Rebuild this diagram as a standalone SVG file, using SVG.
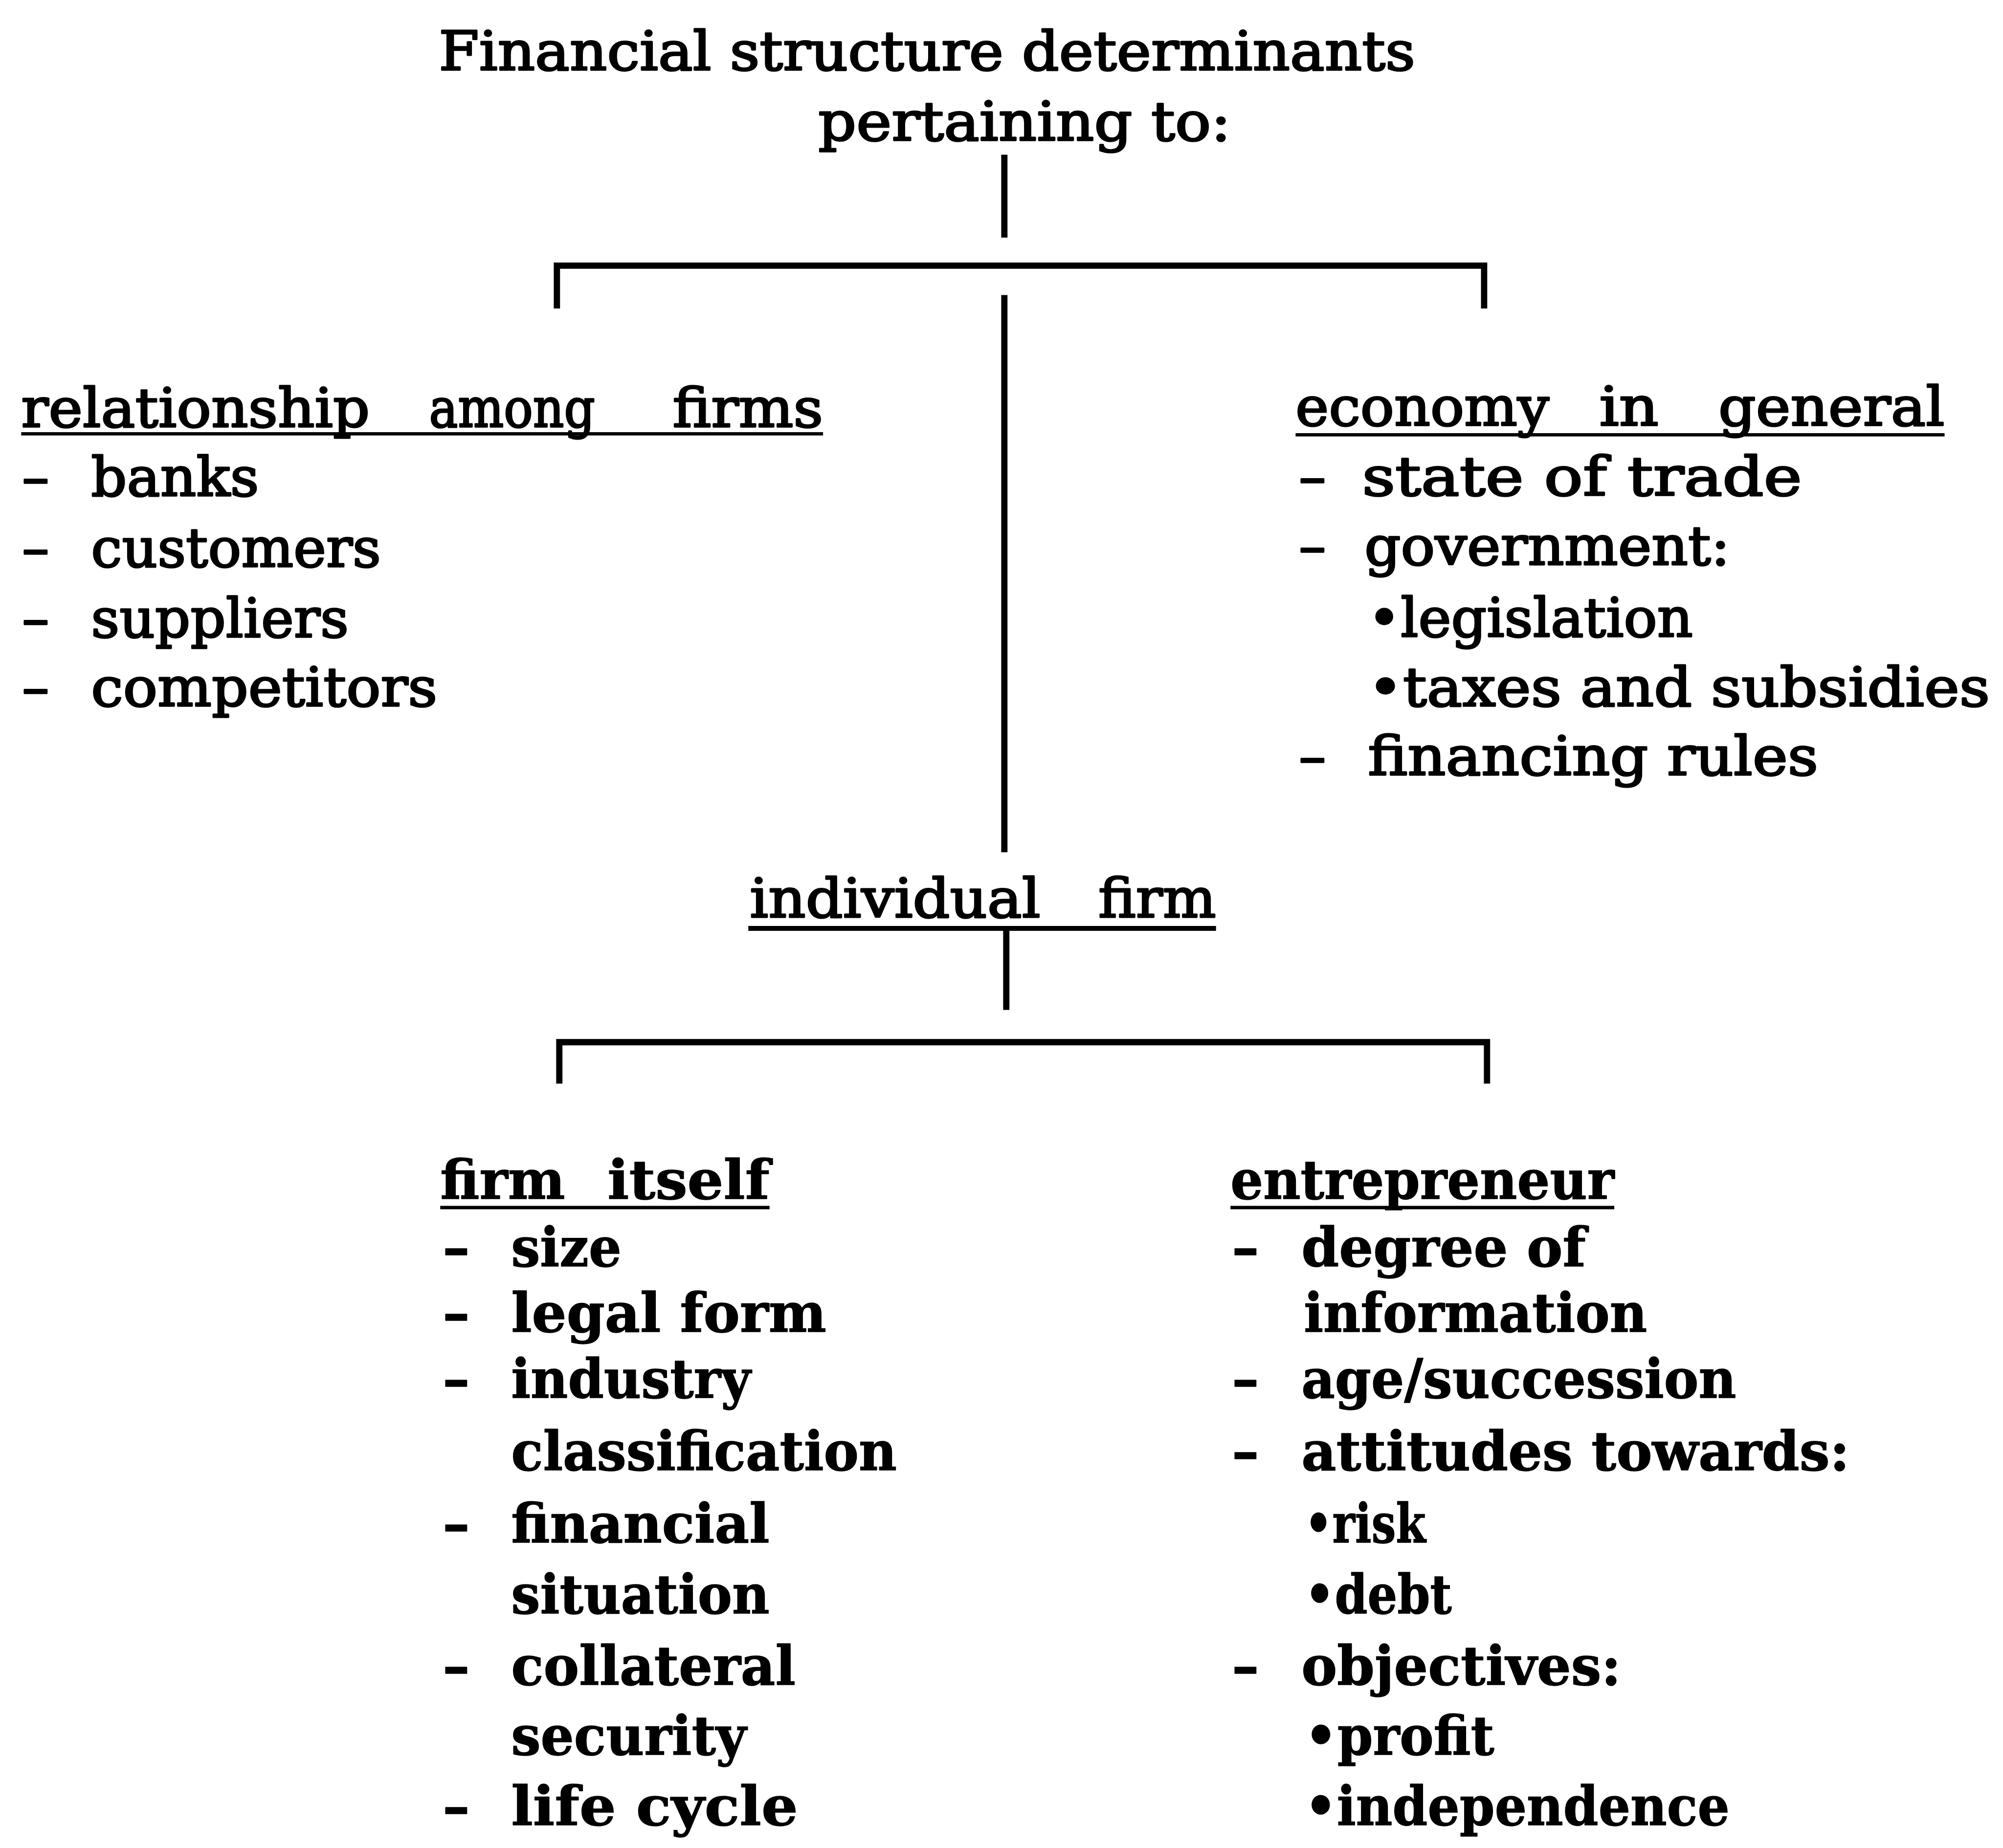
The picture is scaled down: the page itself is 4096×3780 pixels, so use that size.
<svg xmlns="http://www.w3.org/2000/svg" width="4096" height="3780" viewBox="0 0 4096 3780">
<style>
  .t { font-family: "DejaVu Serif", "Liberation Serif", serif; font-size: 112px; fill: #000; stroke: #000; stroke-width: 3.5; stroke-linejoin: round; }
  .b { font-weight: bold; stroke-width: 1.5; }
  .ul { stroke: #000; stroke-width: 7; fill: none; }
  .ln { stroke: #000; stroke-width: 13; fill: none; stroke-linecap: butt; stroke-linejoin: miter; }
</style>
<rect x="0" y="0" width="4096" height="3780" fill="#fff"/>
<g transform="scale(0.986)">
  <g id="title">
    <text class="t" x="910" y="145" textLength="2025" lengthAdjust="spacingAndGlyphs">Financial structure determinants</text>
    <text class="t" x="1697" y="291" textLength="856" lengthAdjust="spacingAndGlyphs">pertaining to:</text>
  </g>

  <g id="connectors">
    <path class="ln" d="M2083,321 V493"/>
    <path class="ln" d="M1155,640 V551 H3078 V640"/>
    <path class="ln" d="M2083,612 V1768"/>
    <path class="ln" d="M2087,1926 V2095"/>
    <path class="ln" d="M1160,2248 V2162 H3084 V2248"/>
  </g>

  <g id="relationship">
    <text class="t" x="44" y="885" textLength="723" lengthAdjust="spacingAndGlyphs">relationship</text>
    <text class="t" x="890" y="885" textLength="344" lengthAdjust="spacingAndGlyphs">among</text>
    <text class="t" x="1395" y="885" textLength="312" lengthAdjust="spacingAndGlyphs">firms</text>
    <line class="ul" x1="44" y1="900" x2="1707" y2="900"/>
    <text class="t" x="46" y="1028">–</text>
    <text class="t" x="189" y="1028" textLength="348" lengthAdjust="spacingAndGlyphs">banks</text>
    <text class="t" x="46" y="1175">–</text>
    <text class="t" x="189" y="1175" textLength="601" lengthAdjust="spacingAndGlyphs">customers</text>
    <text class="t" x="46" y="1321">–</text>
    <text class="t" x="189" y="1321" textLength="534" lengthAdjust="spacingAndGlyphs">suppliers</text>
    <text class="t" x="46" y="1464">–</text>
    <text class="t" x="189" y="1464" textLength="718" lengthAdjust="spacingAndGlyphs">competitors</text>
  </g>

  <g id="economy">
    <text class="t" x="2687" y="882" textLength="526" lengthAdjust="spacingAndGlyphs">economy</text>
    <text class="t" x="3317" y="882" textLength="123" lengthAdjust="spacingAndGlyphs">in</text>
    <text class="t" x="3564" y="882" textLength="469" lengthAdjust="spacingAndGlyphs">general</text>
    <line class="ul" x1="2687" y1="902" x2="4033" y2="902"/>
    <text class="t" x="2694" y="1027">–</text>
    <text class="t" x="2825" y="1027" textLength="912" lengthAdjust="spacingAndGlyphs">state of trade</text>
    <text class="t" x="2694" y="1171">–</text>
    <text class="t" x="2830" y="1171" textLength="758" lengthAdjust="spacingAndGlyphs">government:</text>
    <text class="t" x="2837" y="1320" textLength="674" lengthAdjust="spacingAndGlyphs">•legislation</text>
    <text class="t" x="2837" y="1465" textLength="1290" lengthAdjust="spacingAndGlyphs">•taxes and subsidies</text>
    <text class="t" x="2694" y="1608">–</text>
    <text class="t" x="2837" y="1608" textLength="934" lengthAdjust="spacingAndGlyphs">financing rules</text>
  </g>

  <g id="individual-firm">
    <text class="t" x="1555" y="1903" textLength="603" lengthAdjust="spacingAndGlyphs">individual</text>
    <text class="t" x="2278" y="1903" textLength="244" lengthAdjust="spacingAndGlyphs">firm</text>
    <line class="ul" x1="1552" y1="1926" x2="2522" y2="1926" style="stroke-width:10"/>
  </g>

  <g id="firm-itself">
    <text class="t b" x="913" y="2487" textLength="259" lengthAdjust="spacingAndGlyphs">firm</text>
    <text class="t b" x="1260" y="2487" textLength="336" lengthAdjust="spacingAndGlyphs">itself</text>
    <line class="ul" x1="913" y1="2505" x2="1596" y2="2505"/>
    <text class="t b" x="918" y="2627">–</text>
    <text class="t b" x="1060" y="2627" textLength="229" lengthAdjust="spacingAndGlyphs">size</text>
    <text class="t b" x="918" y="2763">–</text>
    <text class="t b" x="1060" y="2763" textLength="654" lengthAdjust="spacingAndGlyphs">legal form</text>
    <text class="t b" x="918" y="2900">–</text>
    <text class="t b" x="1060" y="2900" textLength="497" lengthAdjust="spacingAndGlyphs">industry</text>
    <text class="t b" x="1060" y="3050" textLength="800" lengthAdjust="spacingAndGlyphs">classification</text>
    <text class="t b" x="918" y="3200">–</text>
    <text class="t b" x="1060" y="3200" textLength="536" lengthAdjust="spacingAndGlyphs">financial</text>
    <text class="t b" x="1060" y="3347" textLength="536" lengthAdjust="spacingAndGlyphs">situation</text>
    <text class="t b" x="918" y="3495">–</text>
    <text class="t b" x="1060" y="3495" textLength="590" lengthAdjust="spacingAndGlyphs">collateral</text>
    <text class="t b" x="1060" y="3640" textLength="488" lengthAdjust="spacingAndGlyphs">security</text>
    <text class="t b" x="918" y="3786">–</text>
    <text class="t b" x="1060" y="3786" textLength="595" lengthAdjust="spacingAndGlyphs">life cycle</text>
  </g>

  <g id="entrepreneur">
    <text class="t b" x="2552" y="2487" textLength="796" lengthAdjust="spacingAndGlyphs">entrepreneur</text>
    <line class="ul" x1="2552" y1="2505" x2="3348" y2="2505"/>
    <text class="t b" x="2555" y="2627">–</text>
    <text class="t b" x="2699" y="2627" textLength="590" lengthAdjust="spacingAndGlyphs">degree of</text>
    <text class="t b" x="2704" y="2763" textLength="712" lengthAdjust="spacingAndGlyphs">information</text>
    <text class="t b" x="2555" y="2900">–</text>
    <text class="t b" x="2699" y="2900" textLength="902" lengthAdjust="spacingAndGlyphs">age/succession</text>
    <text class="t b" x="2555" y="3050">–</text>
    <text class="t b" x="2699" y="3050" textLength="1137" lengthAdjust="spacingAndGlyphs">attitudes towards:</text>
    <text class="t b" x="2706" y="3200" textLength="251" lengthAdjust="spacingAndGlyphs">•risk</text>
    <text class="t b" x="2706" y="3347" textLength="305" lengthAdjust="spacingAndGlyphs">•debt</text>
    <text class="t b" x="2555" y="3495">–</text>
    <text class="t b" x="2699" y="3495" textLength="663" lengthAdjust="spacingAndGlyphs">objectives:</text>
    <text class="t b" x="2706" y="3640" textLength="393" lengthAdjust="spacingAndGlyphs">•profit</text>
    <text class="t b" x="2706" y="3786" textLength="881" lengthAdjust="spacingAndGlyphs">•independence</text>
  </g>
</g>
</svg>
